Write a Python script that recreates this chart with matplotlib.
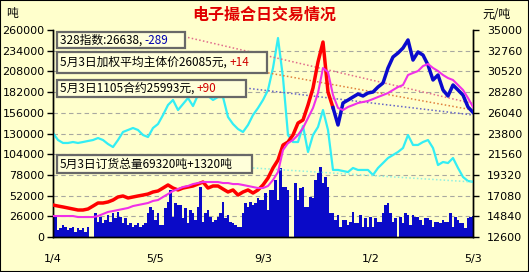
import matplotlib

matplotlib.use("Agg")
import matplotlib.pyplot as plt
from matplotlib.patches import Rectangle
import numpy as np

CJK = ["Noto Sans CJK SC", "DejaVu Sans"]
plt.rcParams["font.family"] = ["DejaVu Sans"]

# x axis: trading days 0..168, labelled at these days
tick_days = [0, 41, 84, 127, 168]
tick_labels = ["1/4", "5/5", "9/3", "1/2", "5/3"]

# daily volume (tons, left axis)
volume = [
    27600, 26000, 8800, 10900, 15100, 12900, 8800, 10900, 12900, 6700,
    10900, 8800, 10900, 6700, 12900, 500, 600, 29700, 19300, 25500,
    17200, 21400, 27600, 19300, 29700, 23400, 31800, 25500, 17200, 23400,
    15100, 17200, 12900, 15100, 17200, 12900, 15100, 17200, 29700, 38100,
    33900, 21400, 29700, 15100, 15100, 36000, 44400, 59000, 25500, 42300,
    40200, 40200, 23400, 36000, 17200, 33900, 29700, 21400, 38100, 63200,
    19300, 29700, 33900, 25500, 19300, 21400, 25500, 29700, 44400, 23400,
    27600, 19300, 17200, 15100, 12900, 12900, 29700, 42300, 38100, 44400,
    40200, 42300, 48600, 46500, 46500, 54900, 33900, 59000, 59000, 71600,
    46500, 86300, 63200, 63200, 59000, 0, 0, 67400, 46500, 61100,
    63200, 38100, 38100, 50600, 48600, 71600, 80000, 88300, 67400, 75800,
    63200, 29700, 29700, 21400, 27600, 12900, 21400, 21400, 15100, 19300,
    31800, 17200, 17200, 27600, 12900, 23400, 12900, 25500, 12900, 23400,
    19300, 19300, 29700, 40200, 42300, 29700, 19300, 23400, 0, 25500,
    17200, 29700, 27600, 15100, 27600, 25500, 25500, 21400, 15100, 23400,
    23400, 21400, 12900, 19300, 19300, 17200, 21400, 19300, 19300, 29700,
    12900, 25500, 21400, 17200, 17200, 10900, 23400, 25500, 26300,
]

# order book total (tons, left axis), every 2nd trading day
order_total = [
    130600, 121800, 118100, 118100, 119300, 118100, 119300, 120600, 121800, 124300,
    121800, 116800, 113000, 121800, 131900, 134400, 136900, 134400, 128100, 125600,
    136900, 141900, 153200, 165800, 172100, 159500, 167000, 174600, 164500, 178400,
    179600, 177100, 172100, 175800, 175800, 150700, 141900, 135600, 131900, 140700,
    153200, 162000, 172100, 184600, 212300, 249900, 200000, 128100, 119300, 119300,
    139400, 106800, 128100, 138200, 159500, 134400, 84200, 84200, 82900, 81600,
    86700, 84200, 84200, 84200, 77900, 86700, 92900, 99200, 103000, 106800,
    111800, 128100, 115600, 115600, 119300, 121800, 111800, 90400, 94200, 92900,
    99200, 86700, 75400, 70300, 69320,
]

# weighted average main price (yuan/ton, right axis), every 2nd trading day
price = [
    16060, 15950, 15850, 15740, 15630, 15520, 15520, 15630, 15950, 16280,
    16280, 16390, 16600, 16930, 17040, 16820, 16930, 17040, 17140, 17250,
    17470, 17580, 17900, 18230, 17900, 17690, 17900, 18010, 18120, 18330,
    18550, 17900, 18120, 18120, 17790, 17470, 17690, 17140, 17470, 17690,
    17360, 17690, 18230, 18980, 20070, 20930, 22550, 22880, 23640, 24930,
    25260, 26880, 28720, 31540, 33700, 28290, 26600, 24720, 27100, 27420,
    27750, 28070, 27860, 28180, 28290, 28830, 29260, 30890, 32080, 32510,
    33050, 33920, 31750, 32620, 32290, 31210, 29590, 30130, 28510, 27860,
    29050, 28510, 27960, 26670, 26085,
]
split = 56  # price drawn red up to here, blue after

# moving average of price (right axis)
price_ma = [
    14870, 14870, 14870, 14870, 14870, 14760, 14760, 14760, 14760, 14870,
    15090, 15310, 15410, 15520, 15630, 15740, 15950, 16060, 16170, 16280,
    16500, 16600, 16930, 17250, 17580, 17790, 18010, 18120, 18330, 18440,
    18550, 18550, 18550, 18550, 18440, 18440, 18330, 18330, 18230, 18120,
    18010, 17900, 17900, 18120, 18770, 19630, 22010, 22770, 23100, 23640,
    24390, 25480, 26560, 28180, 30890, 30450, 27960, 26560, 26340, 26670,
    26880, 27100, 27210, 27320, 27530, 27750, 27960, 28180, 28510, 28830,
    29050, 30130, 30350, 30560, 31100, 31320, 30890, 30560, 30130, 29800,
    29590, 29050, 28510, 27640, 26670,
]

# dotted trend lines: (start day, end day, start value, end value)
trend_pink = (54, 168, 34190, 27040)
trend_orange = (71, 168, 31100, 26340)
trend_blue = (77, 168, 28720, 25800)
trend_cyan = (80, 168, 86700, 69100)

BG = "#FFFFCC"
W, H = 529, 272

fig = plt.figure(figsize=(W / 100, H / 100), dpi=100, facecolor=BG)
ax = fig.add_axes([53 / W, 1 - 237 / H, 420 / W, 207 / H], facecolor=BG)
ax2 = ax.twinx()

days = np.arange(len(volume))
line_days = np.arange(len(price)) * 2

ax.bar(days, volume, width=0.85, color="#0A0AC8", linewidth=0, zorder=2)
ax.plot(line_days, order_total, color="#33EEF4", lw=1.6, zorder=3)
d0, d1, v0, v1 = trend_cyan
ax.plot([d0, d1], [v0, v1], color="#90F0E0", lw=1.1, ls=(0, (1, 1.5)), zorder=3)

for t, col in [(trend_pink, "#E06C8C"), (trend_orange, "#E0803C"), (trend_blue, "#6464C8")]:
    d0, d1, v0, v1 = t
    ax2.plot([d0, d1], [v0, v1], color=col, lw=1.1, ls=(0, (1, 1.5)), zorder=3)
ax2.plot(line_days[: split + 1], price[: split + 1], color="#FF0000", lw=2.5, zorder=4)
ax2.plot(line_days[split:], price[split:], color="#0A0ACC", lw=2.5, zorder=4)
ax2.plot(line_days, price_ma, color="#F030E8", lw=1.5, zorder=5)

ax.set_xlim(0, 168)
ax.set_ylim(0, 260000)
ax2.set_ylim(12600, 35000)
ax.set_yticks(np.arange(0, 260001, 26000))
ax2.set_yticks(np.arange(12600, 35001, 2240))
ax.set_xticks(tick_days)
ax.set_xticklabels(tick_labels)

for y in np.arange(26000, 234001, 26000):
    ax.axhline(y, color="#A8A8A0", lw=0.8, ls=(0, (4, 3)), zorder=1)

for a in (ax, ax2):
    a.spines["top"].set_visible(False)
    for s in ("left", "right", "bottom"):
        a.spines[s].set_linewidth(1.0)
        a.spines[s].set_color("black")
ax.tick_params(axis="y", length=4, width=1, labelsize=8, pad=2)
ax2.tick_params(axis="y", length=4, width=1, labelsize=8, pad=6)
ax.tick_params(axis="x", length=0, labelsize=8, pad=12)

fig.text(264 / W, 1 - 15 / H, "电子撮合日交易情况", ha="center", va="center",
         fontsize=11.5, fontweight="bold", color="#E00000", family=CJK)
fig.text(12 / W, 1 - 14 / H, "吨", ha="center", va="center", fontsize=8.5, family=CJK)
fig.text(496 / W, 1 - 14 / H, "元/吨", ha="center", va="center", fontsize=8.5, family=CJK)

boxes = [
    ((57, 32, 185, 48), "328指数:26638, ", "-289", "#0000B0"),
    ((57, 52, 267, 73), "5月3日加权平均主体价26085元, ", "+14", "#D00000"),
    ((57, 80, 246, 97), "5月3日1105合约25993元, ", "+90", "#D00000"),
    ((57, 155, 252, 173), "5月3日订货总量69320吨+1320吨", "", "black"),
]
for (x0, y0, x1, y1), txt, extra, col in boxes:
    fig.patches.append(Rectangle((x0 / W, 1 - y1 / H), (x1 - x0) / W, (y1 - y0) / H,
                                 transform=fig.transFigure, facecolor="#FFFFDA",
                                 edgecolor="#686868", lw=1.6, zorder=10))
    t = fig.text((x0 + 3) / W, 1 - (y0 + y1) / 2 / H, txt, ha="left", va="center",
                 fontsize=8.5, family=CJK, zorder=11)
    if extra:
        fig.add_artist(plt.Annotation(extra, xy=(1, 0), xycoords=t, va="bottom",
                                      fontsize=8.5, family=CJK, color=col, zorder=11))

fig.patches.append(Rectangle((0, 0), 1, 1, transform=fig.transFigure, fill=False,
                             edgecolor="black", lw=1.5, zorder=20))

fig.savefig("out.png", dpi=100, facecolor=BG)
plt.close(fig)
